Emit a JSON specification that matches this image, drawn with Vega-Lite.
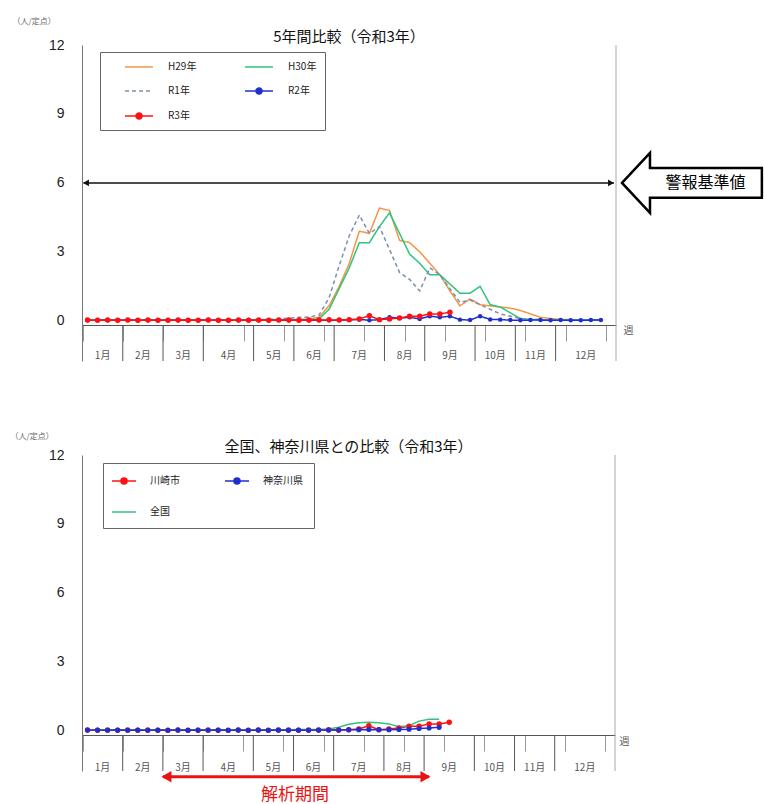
{
  "$schema": "https://vega.github.io/schema/vega-lite/v6.json",
  "padding": {"left": 10, "top": 17, "right": 0, "bottom": 0},
  "bounds": "flush",
  "spacing": 94,
  "resolve": {"scale": {"color": "independent", "strokeDash": "independent"}},
  "config": {
    "font": "Noto Sans CJK JP",
    "view": {"stroke": null},
    "title": {"fontSize": 15, "fontWeight": "normal", "color": "#111", "font": "Noto Sans CJK JP", "frame": "group"},
    "axis": {"labelFont": "Liberation Sans"}
  },
  "datasets": {
    "months": [
      {"month": "1月", "start": 0.5, "center": 2.5},
      {"month": "2月", "start": 4.5, "center": 6.5},
      {"month": "3月", "start": 8.5, "center": 10.5},
      {"month": "4月", "start": 12.5, "center": 15},
      {"month": "5月", "start": 17.5, "center": 19.5},
      {"month": "6月", "start": 21.5, "center": 23.5},
      {"month": "7月", "start": 25.5, "center": 28},
      {"month": "8月", "start": 30.5, "center": 32.5},
      {"month": "9月", "start": 34.5, "center": 37},
      {"month": "10月", "start": 39.5, "center": 41.5},
      {"month": "11月", "start": 43.5, "center": 45.5},
      {"month": "12月", "start": 47.5, "center": 50.5}
    ],
    "top": [
      {"w": 1, "H29年": 0.03, "H30年": 0.02, "R1年": 0.03, "R2年": 0.02, "R3年": 0.03},
      {"w": 2, "H29年": 0.02, "H30年": 0.03, "R1年": 0.02, "R2年": 0.03, "R3年": 0.02},
      {"w": 3, "H29年": 0.02, "H30年": 0.02, "R1年": 0.03, "R2年": 0.02, "R3年": 0.03},
      {"w": 4, "H29年": 0.03, "H30年": 0.02, "R1年": 0.02, "R2年": 0.02, "R3年": 0.02},
      {"w": 5, "H29年": 0.02, "H30年": 0.03, "R1年": 0.03, "R2年": 0.03, "R3年": 0.03},
      {"w": 6, "H29年": 0.02, "H30年": 0.02, "R1年": 0.02, "R2年": 0.02, "R3年": 0.02},
      {"w": 7, "H29年": 0.03, "H30年": 0.02, "R1年": 0.03, "R2年": 0.02, "R3年": 0.03},
      {"w": 8, "H29年": 0.02, "H30年": 0.03, "R1年": 0.02, "R2年": 0.02, "R3年": 0.02},
      {"w": 9, "H29年": 0.02, "H30年": 0.02, "R1年": 0.03, "R2年": 0.03, "R3年": 0.02},
      {"w": 10, "H29年": 0.02, "H30年": 0.02, "R1年": 0.02, "R2年": 0.02, "R3年": 0.03},
      {"w": 11, "H29年": 0.03, "H30年": 0.03, "R1年": 0.03, "R2年": 0.02, "R3年": 0.02},
      {"w": 12, "H29年": 0.02, "H30年": 0.02, "R1年": 0.02, "R2年": 0.02, "R3年": 0.02},
      {"w": 13, "H29年": 0.02, "H30年": 0.03, "R1年": 0.03, "R2年": 0.03, "R3年": 0.03},
      {"w": 14, "H29年": 0.02, "H30年": 0.02, "R1年": 0.02, "R2年": 0.02, "R3年": 0.02},
      {"w": 15, "H29年": 0.03, "H30年": 0.02, "R1年": 0.03, "R2年": 0.02, "R3年": 0.02},
      {"w": 16, "H29年": 0.02, "H30年": 0.03, "R1年": 0.03, "R2年": 0.02, "R3年": 0.03},
      {"w": 17, "H29年": 0.03, "H30年": 0.02, "R1年": 0.04, "R2年": 0.03, "R3年": 0.02},
      {"w": 18, "H29年": 0.03, "H30年": 0.03, "R1年": 0.05, "R2年": 0.02, "R3年": 0.03},
      {"w": 19, "H29年": 0.04, "H30年": 0.03, "R1年": 0.06, "R2年": 0.02, "R3年": 0.02},
      {"w": 20, "H29年": 0.05, "H30年": 0.04, "R1年": 0.08, "R2年": 0.03, "R3年": 0.03},
      {"w": 21, "H29年": 0.05, "H30年": 0.04, "R1年": 0.12, "R2年": 0.02, "R3年": 0.03},
      {"w": 22, "H29年": 0.06, "H30年": 0.05, "R1年": 0.15, "R2年": 0.03, "R3年": 0.02},
      {"w": 23, "H29年": 0.08, "H30年": 0.05, "R1年": 0.16, "R2年": 0.02, "R3年": 0.03},
      {"w": 24, "H29年": 0.15, "H30年": 0.08, "R1年": 0.25, "R2年": 0.03, "R3年": 0.03},
      {"w": 25, "H29年": 0.65, "H30年": 0.5, "R1年": 1.0, "R2年": 0.02, "R3年": 0.04},
      {"w": 26, "H29年": 1.5, "H30年": 1.4, "R1年": 2.4, "R2年": 0.03, "R3年": 0.03},
      {"w": 27, "H29年": 2.5, "H30年": 2.3, "R1年": 3.7, "R2年": 0.03, "R3年": 0.05},
      {"w": 28, "H29年": 3.9, "H30年": 3.4, "R1年": 4.6, "R2年": 0.06, "R3年": 0.08},
      {"w": 29, "H29年": 3.8, "H30年": 3.4, "R1年": 3.8, "R2年": 0.02, "R3年": 0.22},
      {"w": 30, "H29年": 4.9, "H30年": 4.1, "R1年": 4.1, "R2年": 0.05, "R3年": 0.05},
      {"w": 31, "H29年": 4.8, "H30年": 4.7, "R1年": 3.1, "R2年": 0.15, "R3年": 0.08},
      {"w": 32, "H29年": 3.5, "H30年": 3.8, "R1年": 2.1, "R2年": 0.12, "R3年": 0.12},
      {"w": 33, "H29年": 3.4, "H30年": 2.9, "R1年": 1.8, "R2年": 0.15, "R3年": 0.2},
      {"w": 34, "H29年": 3.0, "H30年": 2.5, "R1年": 1.3, "R2年": 0.08, "R3年": 0.2},
      {"w": 35, "H29年": 2.5, "H30年": 2.0, "R1年": 2.3, "R2年": 0.2, "R3年": 0.3},
      {"w": 36, "H29年": 2.0, "H30年": 2.0, "R1年": 2.0, "R2年": 0.15, "R3年": 0.3},
      {"w": 37, "H29年": 1.3, "H30年": 1.6, "R1年": 1.4, "R2年": 0.2, "R3年": 0.37},
      {"w": 38, "H29年": 0.65, "H30年": 1.2, "R1年": 0.8, "R2年": 0.05},
      {"w": 39, "H29年": 0.95, "H30年": 1.2, "R1年": 0.9, "R2年": 0.03},
      {"w": 40, "H29年": 0.7, "H30年": 1.5, "R1年": 0.7, "R2年": 0.2},
      {"w": 41, "H29年": 0.65, "H30年": 0.7, "R1年": 0.5, "R2年": 0.06},
      {"w": 42, "H29年": 0.6, "H30年": 0.6, "R1年": 0.3, "R2年": 0.05},
      {"w": 43, "H29年": 0.55, "H30年": 0.35, "R1年": 0.2, "R2年": 0.03},
      {"w": 44, "H29年": 0.45, "H30年": 0.1, "R1年": 0.1, "R2年": 0.02},
      {"w": 45, "H29年": 0.3, "H30年": 0.06, "R1年": 0.06, "R2年": 0.03},
      {"w": 46, "H29年": 0.15, "H30年": 0.05, "R1年": 0.05, "R2年": 0.03},
      {"w": 47, "H29年": 0.1, "H30年": 0.04, "R1年": 0.05, "R2年": 0.02},
      {"w": 48, "H29年": 0.06, "H30年": 0.04, "R1年": 0.04, "R2年": 0.03},
      {"w": 49, "H29年": 0.05, "H30年": 0.04, "R1年": 0.04, "R2年": 0.02},
      {"w": 50, "H29年": 0.04, "H30年": 0.03, "R1年": 0.03, "R2年": 0.02},
      {"w": 51, "H29年": 0.03, "H30年": 0.03, "R1年": 0.03, "R2年": 0.03},
      {"w": 52, "H29年": 0.03, "H30年": 0.03, "R1年": 0.03, "R2年": 0.03}
    ],
    "bottom": [
      {"w": 1, "川崎市": 0.03, "神奈川県": 0.03, "全国": 0.05},
      {"w": 2, "川崎市": 0.02, "神奈川県": 0.03, "全国": 0.05},
      {"w": 3, "川崎市": 0.03, "神奈川県": 0.02, "全国": 0.04},
      {"w": 4, "川崎市": 0.02, "神奈川県": 0.03, "全国": 0.04},
      {"w": 5, "川崎市": 0.03, "神奈川県": 0.02, "全国": 0.04},
      {"w": 6, "川崎市": 0.02, "神奈川県": 0.03, "全国": 0.04},
      {"w": 7, "川崎市": 0.03, "神奈川県": 0.02, "全国": 0.04},
      {"w": 8, "川崎市": 0.02, "神奈川県": 0.03, "全国": 0.04},
      {"w": 9, "川崎市": 0.02, "神奈川県": 0.02, "全国": 0.04},
      {"w": 10, "川崎市": 0.03, "神奈川県": 0.03, "全国": 0.04},
      {"w": 11, "川崎市": 0.02, "神奈川県": 0.02, "全国": 0.04},
      {"w": 12, "川崎市": 0.02, "神奈川県": 0.03, "全国": 0.04},
      {"w": 13, "川崎市": 0.03, "神奈川県": 0.02, "全国": 0.04},
      {"w": 14, "川崎市": 0.02, "神奈川県": 0.03, "全国": 0.04},
      {"w": 15, "川崎市": 0.02, "神奈川県": 0.02, "全国": 0.04},
      {"w": 16, "川崎市": 0.03, "神奈川県": 0.03, "全国": 0.04},
      {"w": 17, "川崎市": 0.02, "神奈川県": 0.02, "全国": 0.04},
      {"w": 18, "川崎市": 0.03, "神奈川県": 0.03, "全国": 0.05},
      {"w": 19, "川崎市": 0.02, "神奈川県": 0.02, "全国": 0.05},
      {"w": 20, "川崎市": 0.03, "神奈川県": 0.03, "全国": 0.05},
      {"w": 21, "川崎市": 0.03, "神奈川県": 0.02, "全国": 0.05},
      {"w": 22, "川崎市": 0.02, "神奈川県": 0.03, "全国": 0.06},
      {"w": 23, "川崎市": 0.03, "神奈川県": 0.02, "全国": 0.06},
      {"w": 24, "川崎市": 0.03, "神奈川県": 0.03, "全国": 0.06},
      {"w": 25, "川崎市": 0.04, "神奈川県": 0.03, "全国": 0.08},
      {"w": 26, "川崎市": 0.03, "神奈川県": 0.03, "全国": 0.15},
      {"w": 27, "川崎市": 0.05, "神奈川県": 0.04, "全国": 0.28},
      {"w": 28, "川崎市": 0.08, "神奈川県": 0.05, "全国": 0.35},
      {"w": 29, "川崎市": 0.22, "神奈川県": 0.06, "全国": 0.37},
      {"w": 30, "川崎市": 0.05, "神奈川県": 0.05, "全国": 0.35},
      {"w": 31, "川崎市": 0.08, "神奈川県": 0.05, "全国": 0.3},
      {"w": 32, "川崎市": 0.12, "神奈川県": 0.06, "全国": 0.18},
      {"w": 33, "川崎市": 0.2, "神奈川県": 0.07, "全国": 0.22},
      {"w": 34, "川崎市": 0.2, "神奈川県": 0.1, "全国": 0.42},
      {"w": 35, "川崎市": 0.3, "神奈川県": 0.12, "全国": 0.5},
      {"w": 36, "川崎市": 0.3, "神奈川県": 0.15, "全国": 0.5},
      {"w": 37, "川崎市": 0.37}
    ]
  },
  "vconcat": [
    {
      "width": 534,
      "height": 316,
      "title": {"text": "5年間比較（令和3年）", "offset": -28},
      "layer": [
        {
          "data": {"name": "months"},
          "transform": [{"filter": "datum.start > 1"}],
          "mark": {"type": "rule", "color": "#555", "strokeWidth": 1},
          "encoding": {
            "x": {
              "field": "start", "type": "quantitative",
              "scale": {"domain": [0.45, 53.5], "nice": false, "zero": false},
              "axis": {
                "values": [0.5,1.5,2.5,3.5,4.5,5.5,6.5,7.5,8.5,9.5,10.5,11.5,12.5,13.5,14.5,15.5,16.5,17.5,18.5,19.5,20.5,21.5,22.5,23.5,24.5,25.5,26.5,27.5,28.5,29.5,30.5,31.5,32.5,33.5,34.5,35.5,36.5,37.5,38.5,39.5,40.5,41.5,42.5,43.5,44.5,45.5,46.5,47.5,48.5,49.5,50.5,51.5,52.5,53.5],
                "labels": false, "tickSize": 16, "tickColor": "#999", "domainColor": "#555", "offset": -36, "grid": false,
                "title": "週", "titleAngle": 0, "titleX": 546, "titleY": 5, "titleAlign": "center", "titleBaseline": "middle",
                "titleFontSize": 10, "titleFontWeight": "normal", "titleColor": "#555"
              }
            },
            "y": {
              "datum": -0.2, "type": "quantitative",
              "scale": {"domain": [-1.75, 12], "nice": false, "zero": false},
              "axis": {
                "values": [0, 3, 6, 9, 12], "title": "（人/定点）", "titleAngle": 0, "titleAlign": "left", "titleBaseline": "middle",
                "titleX": -70, "titleY": -24, "titleFontSize": 8, "titleFontWeight": "normal", "titleColor": "#666",
                "labelFontSize": 14, "labelColor": "#222", "labelPadding": 18, "ticks": false, "domainColor": "#777",
                "gridColor": "#a8a8a8",
                "gridOpacity": {"condition": {"test": "datum.value === 0", "value": 0}, "value": 1}
              }
            },
            "y2": {"datum": -1.75}
          }
        },
        {
          "data": {"name": "months"},
          "mark": {"type": "text", "fontSize": 10, "color": "#555", "font": "Noto Sans CJK JP"},
          "encoding": {
            "x": {"field": "center", "type": "quantitative"},
            "y": {"datum": -1.55, "type": "quantitative"},
            "text": {"field": "month"}
          }
        },
        {
          "data": {"values": [{}]},
          "mark": {"type": "rule", "color": "#aaa", "strokeWidth": 1},
          "encoding": {"x": {"datum": 53.5}, "y": {"datum": -1.75}, "y2": {"datum": 12}}
        },
        {
          "data": {"name": "top"},
          "transform": [{"fold": ["H29年", "H30年", "R1年", "R2年", "R3年"], "as": ["series", "value"]}],
          "mark": {"type": "line", "strokeWidth": 1.5},
          "encoding": {
            "x": {"field": "w", "type": "quantitative"},
            "y": {"field": "value", "type": "quantitative"},
            "color": {
              "field": "series", "type": "nominal",
              "scale": {"domain": ["H29年", "H30年", "R1年", "R2年", "R3年"], "range": ["#F39547", "#2FC37C", "#7D8EAE", "#1F2FCC", "#FF1010"]},
              "legend": {
                "orient": "none", "legendX": 18, "legendY": 7, "title": null, "columns": 2, "direction": "horizontal", "padding": 8,
                "rowPadding": 12, "columnPadding": 31, "symbolSize": 144, "symbolStrokeWidth": 1.5, "labelOffset": 46,
                "labelFontSize": 10, "labelColor": "#222", "labelFont": "Noto Sans CJK JP", "strokeColor": "#666", "fillColor": "#ffffff",
                "encode": {
                  "symbols": {
                    "update": {
                      "shape": {"signal": "datum.value === 'R2年' || datum.value === 'R3年' ? 'M1.67,0H6.33M4.5,0A0.5,0.5,0,1,1,3.5,0A0.5,0.5,0,1,1,4.5,0Z' : 'M1.67,0H6.33'"},
                      "stroke": {"signal": "datum.value === 'H29年' ? '#F39547' : datum.value === 'H30年' ? '#2FC37C' : datum.value === 'R1年' ? '#7D8EAE' : datum.value === 'R2年' ? '#1F2FCC' : '#FF1010'"},
                      "fill": {"signal": "datum.value === 'R2年' ? '#1F2FCC' : datum.value === 'R3年' ? '#FF1010' : 'transparent'"},
                      "strokeDash": {"signal": "datum.value === 'R1年' ? [4, 3] : [1, 0]"},
                      "opacity": {"value": 1},
                      "strokeWidth": {"value": 1.5}
                    }
                  }
                }
              }
            },
            "strokeDash": {
              "field": "series", "type": "nominal",
              "scale": {"domain": ["H29年", "H30年", "R1年", "R2年", "R3年"], "range": [[1, 0], [1, 0], [4, 3], [1, 0], [1, 0]]},
              "legend": null
            }
          }
        },
        {
          "data": {"name": "top"},
          "transform": [{"fold": ["R2年"], "as": ["series", "value"]}],
          "mark": {"type": "circle", "size": 20, "opacity": 1},
          "encoding": {
            "x": {"field": "w", "type": "quantitative"},
            "y": {"field": "value", "type": "quantitative"},
            "color": {"field": "series", "type": "nominal", "legend": null}
          }
        },
        {
          "data": {"name": "top"},
          "transform": [{"fold": ["R3年"], "as": ["series", "value"]}],
          "mark": {"type": "circle", "size": 30, "opacity": 1},
          "encoding": {
            "x": {"field": "w", "type": "quantitative"},
            "y": {"field": "value", "type": "quantitative"},
            "color": {"field": "series", "type": "nominal", "legend": null}
          }
        },
        {
          "data": {"values": [{}]},
          "mark": {"type": "rule", "color": "#111", "strokeWidth": 1.5},
          "encoding": {"x": {"datum": 0.6}, "x2": {"datum": 53.3}, "y": {"datum": 6}}
        },
        {
          "data": {"values": [{}]},
          "mark": {"type": "point", "shape": "triangle-left", "filled": true, "color": "#111", "size": 45, "opacity": 1},
          "encoding": {"x": {"datum": 0.85}, "y": {"datum": 6}}
        },
        {
          "data": {"values": [{}]},
          "mark": {"type": "point", "shape": "triangle-right", "filled": true, "color": "#111", "size": 45, "opacity": 1},
          "encoding": {"x": {"datum": 53.0}, "y": {"datum": 6}}
        },
        {
          "data": {"values": [{}]},
          "mark": {
            "type": "point",
            "shape": "M-1,0L-0.606,-0.423L-0.606,-0.211L0.97,-0.211L0.97,0.211L-0.606,0.211L-0.606,0.423Z",
            "size": 20164, "filled": true, "fill": "#ffffff", "stroke": "#000000", "strokeWidth": 2.5, "opacity": 1, "strokeJoin": "miter"
          },
          "encoding": {"x": {"datum": 61.15}, "y": {"datum": 6}}
        },
        {
          "data": {"values": [{"label": "警報基準値"}]},
          "mark": {"type": "text", "fontSize": 16, "color": "#000", "font": "Noto Sans CJK JP"},
          "encoding": {"x": {"datum": 62.4}, "y": {"datum": 6}, "text": {"field": "label"}}
        }
      ]
    },
    {
      "width": 533,
      "height": 316,
      "title": {"text": "全国、神奈川県との比較（令和3年）", "offset": -23},
      "layer": [
        {
          "data": {"name": "months"},
          "transform": [{"filter": "datum.start > 1"}],
          "mark": {"type": "rule", "color": "#555", "strokeWidth": 1},
          "encoding": {
            "x": {
              "field": "start", "type": "quantitative",
              "scale": {"domain": [0.45, 53.5], "nice": false, "zero": false},
              "axis": {
                "values": [0.5,1.5,2.5,3.5,4.5,5.5,6.5,7.5,8.5,9.5,10.5,11.5,12.5,13.5,14.5,15.5,16.5,17.5,18.5,19.5,20.5,21.5,22.5,23.5,24.5,25.5,26.5,27.5,28.5,29.5,30.5,31.5,32.5,33.5,34.5,35.5,36.5,37.5,38.5,39.5,40.5,41.5,42.5,43.5,44.5,45.5,46.5,47.5,48.5,49.5,50.5,51.5,52.5,53.5],
                "labels": false, "tickSize": 16, "tickColor": "#999", "domainColor": "#555", "offset": -36, "grid": false,
                "title": "週", "titleAngle": 0, "titleX": 542, "titleY": 6, "titleAlign": "center", "titleBaseline": "middle",
                "titleFontSize": 10, "titleFontWeight": "normal", "titleColor": "#555"
              }
            },
            "y": {
              "datum": -0.2, "type": "quantitative",
              "scale": {"domain": [-1.75, 12], "nice": false, "zero": false},
              "axis": {
                "values": [0, 3, 6, 9, 12], "title": "（人/定点）", "titleAngle": 0, "titleAlign": "left", "titleBaseline": "middle",
                "titleX": -72, "titleY": -19, "titleFontSize": 8, "titleFontWeight": "normal", "titleColor": "#666",
                "labelFontSize": 14, "labelColor": "#222", "labelPadding": 18, "ticks": false, "domainColor": "#777",
                "gridColor": "#a8a8a8",
                "gridOpacity": {"condition": {"test": "datum.value === 0", "value": 0}, "value": 1}
              }
            },
            "y2": {"datum": -1.75}
          }
        },
        {
          "data": {"name": "months"},
          "mark": {"type": "text", "fontSize": 10, "color": "#555", "font": "Noto Sans CJK JP"},
          "encoding": {
            "x": {"field": "center", "type": "quantitative"},
            "y": {"datum": -1.62, "type": "quantitative"},
            "text": {"field": "month"}
          }
        },
        {
          "data": {"values": [{}]},
          "mark": {"type": "rule", "color": "#aaa", "strokeWidth": 1},
          "encoding": {"x": {"datum": 53.5}, "y": {"datum": -1.75}, "y2": {"datum": 12}}
        },
        {
          "data": {"name": "bottom"},
          "transform": [{"fold": ["川崎市", "全国", "神奈川県"], "as": ["series", "value"]}],
          "mark": {"type": "line", "strokeWidth": 1.5},
          "encoding": {
            "x": {"field": "w", "type": "quantitative"},
            "y": {"field": "value", "type": "quantitative"},
            "color": {
              "field": "series", "type": "nominal",
              "scale": {"domain": ["川崎市", "神奈川県", "全国"], "range": ["#FF1010", "#1F2FCC", "#2FC37C"]},
              "legend": {
                "orient": "none", "legendX": 21, "legendY": 8, "title": null, "columns": 2, "direction": "horizontal", "padding": 11,
                "rowPadding": 18, "columnPadding": 42, "symbolSize": 144, "symbolStrokeWidth": 1.5, "labelOffset": 22,
                "labelFontSize": 10, "labelColor": "#222", "labelFont": "Noto Sans CJK JP", "strokeColor": "#666", "fillColor": "#ffffff",
                "encode": {
                  "symbols": {
                    "update": {
                      "shape": {"signal": "datum.value === '全国' ? 'M-1.5,0H2.5' : 'M-1.5,0H2.5M1,0A0.5,0.5,0,1,1,0,0A0.5,0.5,0,1,1,1,0Z'"},
                      "stroke": {"signal": "datum.value === '川崎市' ? '#FF1010' : datum.value === '神奈川県' ? '#1F2FCC' : '#2FC37C'"},
                      "fill": {"signal": "datum.value === '川崎市' ? '#FF1010' : datum.value === '神奈川県' ? '#1F2FCC' : 'transparent'"},
                      "opacity": {"value": 1},
                      "strokeWidth": {"value": 1.5}
                    }
                  }
                }
              }
            }
          }
        },
        {
          "data": {"name": "bottom"},
          "transform": [{"fold": ["川崎市"], "as": ["series", "value"]}],
          "mark": {"type": "circle", "size": 30, "opacity": 1},
          "encoding": {
            "x": {"field": "w", "type": "quantitative"},
            "y": {"field": "value", "type": "quantitative"},
            "color": {"field": "series", "type": "nominal", "legend": null}
          }
        },
        {
          "data": {"name": "bottom"},
          "transform": [{"fold": ["神奈川県"], "as": ["series", "value"]}],
          "mark": {"type": "circle", "size": 26, "opacity": 1},
          "encoding": {
            "x": {"field": "w", "type": "quantitative"},
            "y": {"field": "value", "type": "quantitative"},
            "color": {"field": "series", "type": "nominal", "legend": null}
          }
        },
        {
          "data": {"values": [{}]},
          "mark": {"type": "rule", "color": "#EE1111", "strokeWidth": 3},
          "encoding": {"x": {"datum": 8.5}, "x2": {"datum": 35.0}, "y": {"datum": -2.0}}
        },
        {
          "data": {"values": [{}]},
          "mark": {"type": "point", "shape": "triangle-left", "filled": true, "color": "#EE1111", "size": 130, "opacity": 1},
          "encoding": {"x": {"datum": 8.86}, "y": {"datum": -2.0}}
        },
        {
          "data": {"values": [{}]},
          "mark": {"type": "point", "shape": "triangle-right", "filled": true, "color": "#EE1111", "size": 130, "opacity": 1},
          "encoding": {"x": {"datum": 34.63}, "y": {"datum": -2.0}}
        },
        {
          "data": {"values": [{"label": "解析期間"}]},
          "mark": {"type": "text", "fontSize": 17, "color": "#EE1111", "font": "Noto Sans CJK JP"},
          "encoding": {"x": {"datum": 21.64}, "y": {"datum": -2.8}, "text": {"field": "label"}}
        }
      ]
    }
  ]
}
